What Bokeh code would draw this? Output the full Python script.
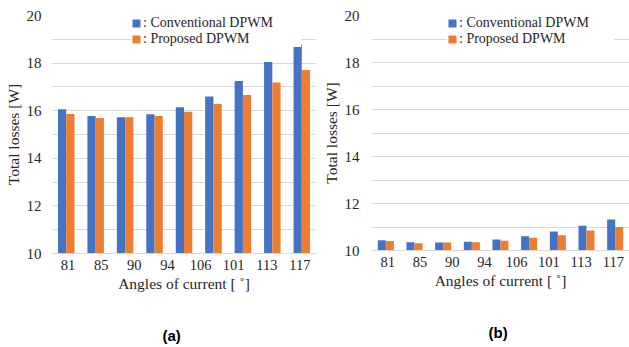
from bokeh.plotting import figure
from bokeh.models import (FactorRange, Range1d, SingleIntervalTicker, Title,
                          CategoricalAxis, ColumnDataSource)
from bokeh.transform import dodge
from bokeh.layouts import row
from bokeh.embed import file_html
from bokeh.resources import INLINE

# ---- data ----
bar_ids = ["1", "2", "3", "4", "5", "6", "7", "8", "9"]
angle_labels = ["81", "85", "90", "94", "106", "101", "113", "117"]

conv_a = [16.06, 15.78, 15.73, 15.85, 16.14, 16.60, 17.25, 18.05, 18.77]
prop_a = [15.86, 15.69, 15.72, 15.78, 15.96, 16.28, 16.66, 17.18, 17.71]

conv_b = [10.44, 10.35, 10.34, 10.37, 10.47, 10.61, 10.81, 11.05, 11.32]
prop_b = [10.40, 10.31, 10.34, 10.35, 10.41, 10.54, 10.65, 10.85, 11.00]

series_names = [": Conventional DPWM", ": Proposed DPWM"]
y_min, y_max = 10, 20

BLUE = "#4472C4"
ORANGE = "#ED7D31"
GRID = "#D9D9D9"
TXT = "#262626"
SERIF = "Liberation Serif"


def make_panel(conv, prop, tag, border_left, border_right, frame_w, frame_h,
               leg_xy, title_offset, label_w, ytick_standoff):
    src = ColumnDataSource(dict(x=bar_ids, conv=conv, prop=prop))
    p = figure(x_range=FactorRange(*bar_ids), y_range=Range1d(y_min, y_max),
               frame_width=frame_w, frame_height=frame_h,
               min_border_left=border_left, min_border_right=border_right,
               min_border_top=15, min_border_bottom=0,
               output_backend="svg", toolbar_location=None,
               background_fill_color="white", border_fill_color="white",
               outline_line_color=None)
    p.vbar(x=dodge("x", -0.14, range=p.x_range), top="conv", bottom=0, width=0.28,
           source=src, fill_color=BLUE, line_color=None, legend_label=series_names[0])
    p.vbar(x=dodge("x", 0.14, range=p.x_range), top="prop", bottom=0, width=0.28,
           source=src, fill_color=ORANGE, line_color=None, legend_label=series_names[1])

    # hidden bar axis
    p.xaxis.visible = False
    p.xgrid.visible = False

    # label axis with 8 categories over the same frame
    p.extra_x_ranges = {"labels": FactorRange(*angle_labels)}
    ax = CategoricalAxis(x_range_name="labels")
    ax.axis_label = "Angles of current [ ˚]"
    ax.axis_line_color = GRID
    ax.major_tick_line_color = None
    ax.minor_tick_line_color = None
    ax.major_tick_out = 0
    ax.major_tick_in = 0
    ax.major_label_text_font = SERIF
    ax.major_label_text_font_size = "14.5px"
    ax.major_label_text_color = TXT
    ax.major_label_standoff = 6
    ax.axis_label_text_font = SERIF
    ax.axis_label_text_font_size = "15.5px"
    ax.axis_label_text_font_style = "normal"
    ax.axis_label_text_color = TXT
    ax.axis_label_standoff = 2
    p.add_layout(ax, "below")

    ya = p.yaxis[0]
    ya.ticker = SingleIntervalTicker(interval=2)
    ya.axis_label = "Total losses [W]"
    ya.axis_line_color = None
    ya.major_tick_line_color = None
    ya.minor_tick_line_color = None
    ya.major_tick_out = 0
    ya.major_tick_in = 0
    ya.major_label_text_font = SERIF
    ya.major_label_text_font_size = "15px"
    ya.major_label_text_color = TXT
    ya.major_label_standoff = ytick_standoff
    ya.axis_label_text_font = SERIF
    ya.axis_label_text_font_size = "15.5px"
    ya.axis_label_text_font_style = "normal"
    ya.axis_label_text_color = TXT
    ya.axis_label_standoff = 2

    p.ygrid.ticker = SingleIntervalTicker(interval=1)
    p.ygrid.grid_line_color = GRID
    p.ygrid.grid_line_width = 1

    lg = p.legend[0]
    lg.location = leg_xy
    lg.orientation = "vertical"
    lg.glyph_width = 10
    lg.glyph_height = 10
    lg.label_height = 14
    lg.label_width = label_w
    lg.label_standoff = 2
    lg.spacing = -3
    lg.padding = 12
    lg.margin = 0
    lg.border_line_color = None
    lg.background_fill_color = "white"
    lg.background_fill_alpha = 1.0
    lg.label_text_font = SERIF
    lg.label_text_font_size = "14px"
    lg.label_text_color = TXT

    t = Title(text=tag, align="left", offset=title_offset, standoff=61,
              text_font="Liberation Sans", text_font_size="15px",
              text_font_style="bold", text_color="black")
    p.add_layout(t, "below")
    return p


p1 = make_panel(conv_a, prop_a, "(a)", 51, 3, 265, 238, (80, 206), 111, 158, 6)
p2 = make_panel(conv_b, prop_b, "(b)", 51, 1, 258, 235, (76, 203), 117, 155, 8)

layout = row(p1, p2, spacing=0)
open("out.html", "w").write(file_html(layout, INLINE))
